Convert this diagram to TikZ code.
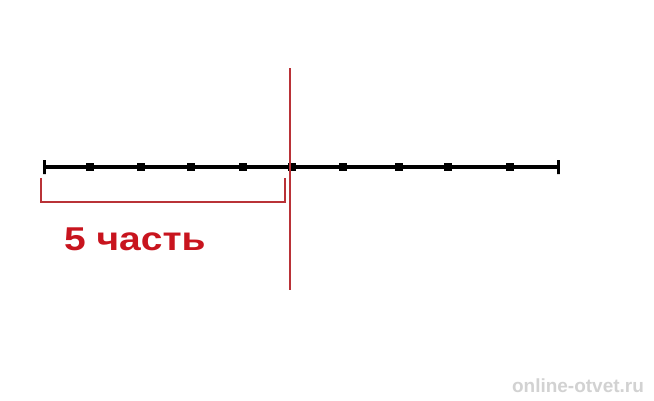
\documentclass[tikz,border=0pt]{standalone}
\usepackage{fontspec}
\setmainfont{Liberation Sans}
\definecolor{partred}{RGB}{200,20,30}
\definecolor{cutred}{RGB}{185,50,55}
\tikzset{tick/.style={fill=black,minimum size=8pt,inner sep=0pt}}
\tikzset{endbar/.style={draw=black,line width=3pt,line cap=round,minimum width=0pt,minimum height=14pt,inner sep=0pt}}

\begin{document}
\begin{tikzpicture}[x=1pt,y=-1pt]
\useasboundingbox[fill=white] (0,0) rectangle (654,400);

% ends of the segment
\node[endbar] (t0) at (44,167) {};
\node[endbar] (t10) at (558,167) {};

\draw[line width=4pt] (t0.center) -- (t10.center);

\foreach \n/\x in {1/90,2/141,3/191,4/243,5/292,6/343,7/399,8/448,9/510}{
  \node[tick] (t\n) at (\x,167) {};
}

% the cut
\path (290,68) coordinate (cuttop);
\path (290,290) coordinate (cutbot);
\draw[cutred,line width=1.6pt] (cuttop) -- (cutbot);

% bracket under the first five parts
\path (41,178) coordinate (A);
\path (285,178) coordinate (B);
\draw[cutred,line width=2pt] (A) -- ++(0,24) -| (B);

\node[partred,font=\bfseries\fontsize{33}{33}\selectfont,anchor=base west,xscale=1.18,transform shape] (part) at (60,250) {5 часть};

% watermark
\node[gray!35,font=\bfseries\fontsize{19}{19}\selectfont] (wm) at (578,386) {online-otvet.ru};

\end{tikzpicture}
\end{document}
